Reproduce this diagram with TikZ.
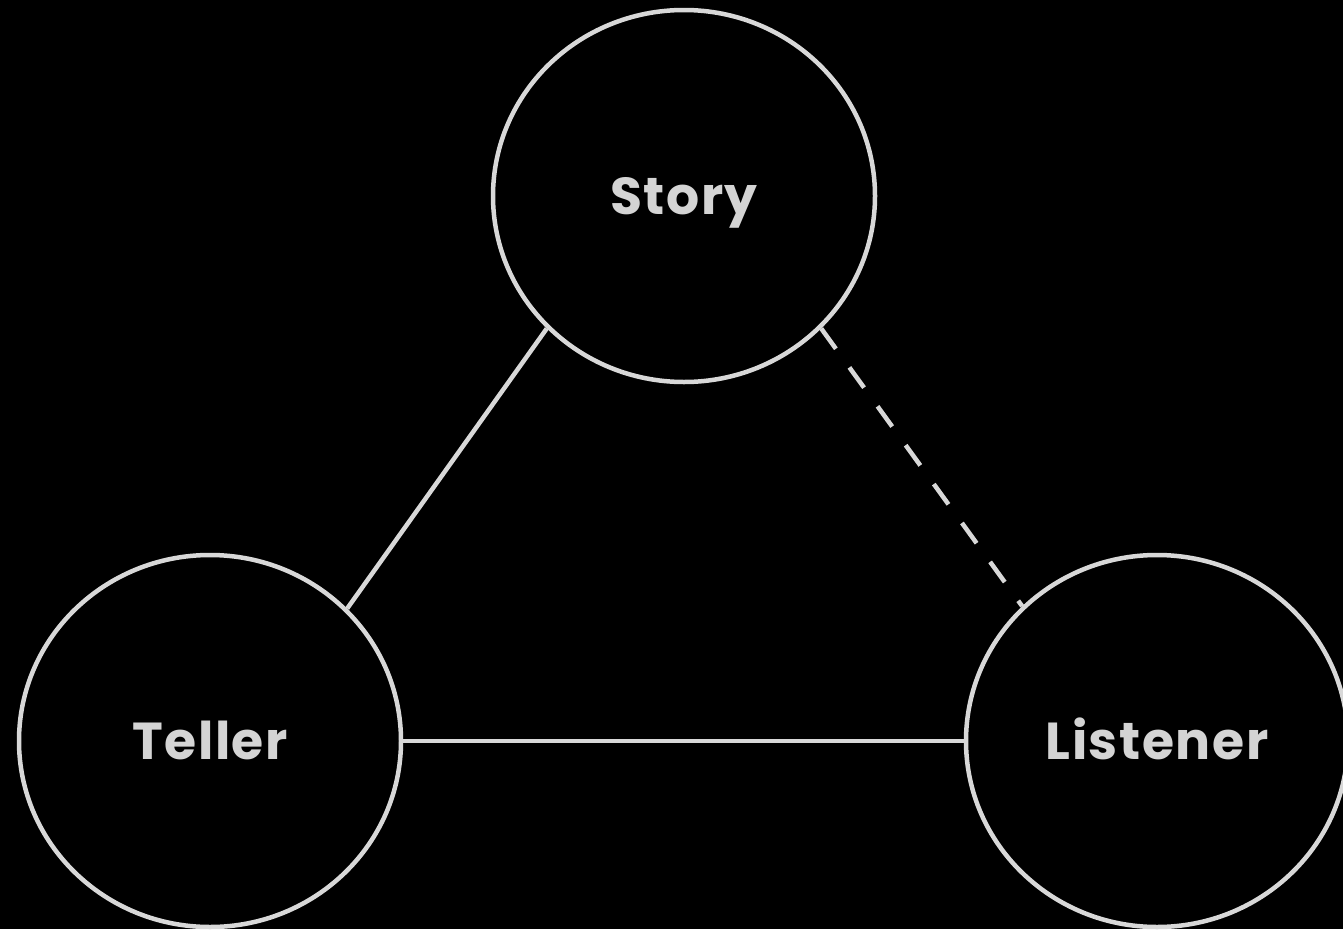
\documentclass[tikz,border=0pt]{standalone}
\usepackage{fontspec}
\newfontfamily\labfont{Poppins}[UprightFont=* Bold, LetterSpace=3]
\usetikzlibrary{shapes.geometric}
\definecolor{linegray}{HTML}{D8D8D8}
\definecolor{textgray}{HTML}{D4D4D4}
\begin{document}
\begin{tikzpicture}[x=1pt,y=1pt,
  role/.style={ellipse, draw=linegray, line width=4.5pt, minimum width=382pt, minimum height=372pt, inner sep=0pt,
    text=textgray, text height=37pt, text depth=0pt, font=\labfont\fontsize{52}{52}\selectfont},
  link/.style={draw=linegray, line width=4.5pt},
  dashlink/.style={link, dash pattern=on 25pt off 23pt}]
\fill[black] (0,0) rectangle (1343,-929);
\useasboundingbox (0,0) rectangle (1343,-929);
\node[role] (story) at (684,-196) {Story};
\node[role] (teller) at (210,-741) {Teller};
\node[role] (listener) at (1157,-741) {Listener};
\draw[link] (story.224) -- (teller.44);
\draw[link] (teller.east) -- (listener.west);
\draw[dashlink] (story.316) -- (listener.135);
\end{tikzpicture}
\end{document}
